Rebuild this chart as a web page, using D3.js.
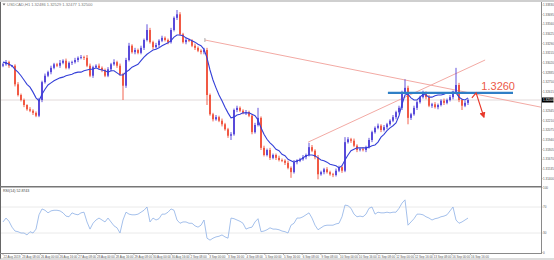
<!DOCTYPE html>
<html>
<head>
<meta charset="utf-8">
<script src="https://cdn.jsdelivr.net/npm/d3@7"></script>
<style>
html, body { margin: 0; padding: 0; background: #fff; }
svg { display: block; font-family: "Liberation Sans", Arial, sans-serif; }
</style>
</head>
<body>
<div id="chart"></div>
<script>
// USDCAD H1 candles (close prices), first open
var firstOpen = 1.3298;
var closes = [
  1.3300,1.3303,1.3298,1.3298,1.3272,1.3257,1.3250,1.3243,1.3237,1.3235,1.3232,1.3228,1.3250,
  1.3275,1.3284,1.3289,1.3295,1.3300,1.3298,1.3302,1.3305,1.3295,1.3302,1.3303,1.3306,1.3309,
  1.3310,1.3309,1.3298,1.3284,1.3296,1.3298,1.3295,1.3292,1.3284,1.3293,1.3300,1.3303,1.3298,
  1.3286,1.3270,1.3306,1.3326,1.3317,1.3320,1.3316,1.3323,1.3334,1.3348,1.3331,1.3324,1.3327,
  1.3333,1.3337,1.3334,1.3331,1.3348,1.3365,1.3370,1.3342,1.3331,1.3334,1.3333,1.3326,1.3323,
  1.3319,1.3317,1.3320,1.3257,1.3230,1.3223,1.3226,1.3221,1.3216,1.3209,1.3200,1.3202,1.3236,
  1.3239,1.3235,1.3232,1.3233,1.3228,1.3205,1.3215,1.3225,1.3183,1.3173,1.3180,1.3169,1.3173,
  1.3169,1.3166,1.3165,1.3162,1.3155,1.3149,1.3163,1.3165,1.3167,1.3170,1.3173,1.3184,1.3179,
  1.3170,1.3146,1.3149,1.3153,1.3149,1.3146,1.3145,1.3151,1.3156,1.3151,1.3191,1.3195,1.3193,
  1.3186,1.3180,1.3181,1.3180,1.3184,1.3194,1.3205,1.3211,1.3214,1.3208,1.3212,1.3216,1.3221,
  1.3226,1.3233,1.3239,1.3261,1.3267,1.3225,1.3230,1.3239,1.3247,1.3254,1.3260,1.3254,1.3242,
  1.3244,1.3240,1.3243,1.3249,1.3246,1.3250,1.3254,1.3261,1.3271,1.3250,1.3242,1.3246,1.3250
];
// upper / lower wick lengths in pips
var wickUp = [
  2,3,2,1,2,3,2,2,1,3,2,2,3,
  2,3,2,3,2,2,4,2,3,2,2,3,2,
  3,2,4,3,2,2,3,2,2,3,2,4,2,
  3,2,3,4,2,3,2,3,2,8,3,2,3,
  2,3,2,2,3,2,6,3,2,3,2,2,3,
  2,2,3,3,2,2,3,2,3,2,2,3,2,
  3,2,2,3,2,2,3,14,2,3,2,3,2,
  2,3,2,2,3,2,3,2,2,3,2,6,3,
  2,3,2,2,3,2,2,3,2,2,7,3,2,
  3,2,2,3,2,3,2,2,3,2,3,2,2,
  3,2,3,2,12,3,2,3,2,2,3,2,3,
  2,3,2,2,3,2,3,2,24,3,2,3,2
];
var wickDn = [
  2,2,3,2,3,2,2,3,2,2,3,2,2,
  3,2,2,3,2,2,3,2,2,2,3,2,3,
  2,3,2,2,3,2,2,3,2,2,3,2,3,
  2,20,3,2,2,3,2,2,3,2,2,3,2,
  3,2,2,3,2,2,3,2,2,3,2,2,3,
  2,3,3,14,2,3,2,2,3,2,3,6,2,
  3,2,2,3,2,3,2,2,3,2,2,3,2,
  3,2,2,3,2,8,2,3,2,2,3,2,2,
  3,7,2,3,2,2,3,2,2,3,2,2,3,
  2,3,2,2,3,2,3,2,2,3,2,3,2,
  2,3,2,3,2,9,3,2,3,2,2,3,2,
  3,2,3,2,3,2,2,3,2,3,6,2,3
];
// moving average
var maValues = [
  1.3303,1.3302,1.3300,1.3298,1.3293,1.3289,1.3284,1.3278,1.3272,1.3268,1.3261,1.3253,1.3249,
  1.3258,1.3265,1.3271,1.3274,1.3277,1.3279,1.3281,1.3282,1.3284,1.3285,1.3286,1.3288,1.3289,
  1.3289,1.3291,1.3292,1.3293,1.3293,1.3295,1.3293,1.3292,1.3291,1.3289,1.3291,1.3291,1.3288,
  1.3285,1.3285,1.3289,1.3292,1.3296,1.3298,1.3300,1.3305,1.3310,1.3314,1.3317,1.3320,1.3321,
  1.3323,1.3326,1.3328,1.3330,1.3333,1.3338,1.3341,1.3341,1.3340,1.3337,1.3335,1.3333,1.3331,
  1.3328,1.3326,1.3321,1.3309,1.3292,1.3278,1.3267,1.3257,1.3249,1.3240,1.3232,1.3225,1.3226,
  1.3229,1.3230,1.3232,1.3232,1.3232,1.3230,1.3228,1.3222,1.3211,1.3202,1.3195,1.3190,1.3186,
  1.3181,1.3179,1.3174,1.3172,1.3167,1.3165,1.3163,1.3165,1.3166,1.3169,1.3172,1.3173,1.3173,
  1.3172,1.3169,1.3166,1.3165,1.3163,1.3160,1.3159,1.3158,1.3155,1.3158,1.3166,1.3173,1.3179,
  1.3181,1.3183,1.3183,1.3183,1.3183,1.3184,1.3186,1.3187,1.3191,1.3198,1.3202,1.3207,1.3211,
  1.3214,1.3218,1.3228,1.3244,1.3257,1.3258,1.3253,1.3250,1.3250,1.3254,1.3258,1.3257,1.3254,
  1.3254,1.3256,1.3257,1.3257,1.3258,1.3260,1.3260,1.3261,1.3260,1.3254,1.3251,1.3250,1.3253
];
// RSI(14)
var rsiValues = [
  47,53,48,39,33,32,30,30,27,32,30,36,58,
  67,65,61,64,65,65,64,61,56,55,61,59,58,
  61,62,47,36,45,50,53,50,47,53,47,41,38,
  30,50,62,59,58,58,59,62,65,70,47,53,50,
  52,59,59,62,67,65,50,45,47,47,45,45,41,
  39,42,50,22,19,22,24,25,27,24,22,53,52,
  50,48,45,36,38,39,47,52,32,33,35,38,36,
  36,35,33,32,30,42,45,53,53,55,58,61,53,
  42,35,38,41,42,42,42,44,45,55,73,72,68,
  59,55,56,55,59,68,70,59,62,61,61,62,61,
  62,62,68,76,81,42,47,52,59,59,58,55,53,
  50,52,53,55,56,58,64,70,50,45,47,50,53
];
var priceTicks = ["1.33830","1.33695","1.33560","1.33425","1.33290","1.33155","1.33020",
  "1.32885","1.32750","1.32615","1.32345","1.32210","1.32075","1.31940",
  "1.31805","1.31670","1.31535","1.31400"];
var rsiTicks = [100, 70, 30, 0];
var rsiLevels = [70, 30];
var dateLabels = ["22 Aug 2019","23 Aug 08:00","26 Aug 00:00","26 Aug 16:00","27 Aug 08:00",
  "28 Aug 00:00","28 Aug 16:00","29 Aug 08:00","30 Aug 00:00","30 Aug 16:00","2 Sep 08:00",
  "3 Sep 00:00","3 Sep 16:00","4 Sep 08:00","5 Sep 00:00","5 Sep 16:00","6 Sep 08:00",
  "9 Sep 08:00","10 Sep 00:00","10 Sep 16:00","11 Sep 08:00","12 Sep 00:00","12 Sep 16:00",
  "13 Sep 08:00","16 Sep 00:00","16 Sep 16:00"];
var lastPrice = 1.3250;
var levelPrice = 1.3260;
// trend lines as [candle index, price]
var downTrend = [[67.3, 1.3334], [179.3, 1.3240]];
var upTrend = [[101.7, 1.3191], [160.7, 1.3306]];
var levelSpan = [128.3, 170];
var arrowPts = [[156.3, 1.3253], [157.7, 1.3260], [160.3, 1.3226]];

var svgWidth = 554;
var svgHeight = 260;
var axisX = 541;

var svg = d3.select("#chart")
  .append("svg")
  .attr("width", svgWidth)
  .attr("height", svgHeight);

// frame
svg.append("rect").attr("x", 0).attr("y", 0).attr("width", svgWidth).attr("height", 2).attr("fill", "#cfcfcf");
svg.append("line").attr("x1", 0.5).attr("x2", 0.5).attr("y1", 2).attr("y2", 259)
  .attr("stroke", "#666").attr("stroke-width", 1);

var x = d3.scaleLinear().domain([0, closes.length - 1]).range([3, 468]);
var y = d3.scaleLinear().domain([1.31296, 1.33900]).range([186, 0]);
var yR = d3.scaleLinear().domain([0, 100]).range([252.5, 187.5]);

svg.append("clipPath").attr("id", "mainClip")
  .append("rect").attr("x", 1).attr("y", 2).attr("width", axisX - 1).attr("height", 184);

var main = svg.append("g").attr("clip-path", "url(#mainClip)");

// bid line
main.append("line")
  .attr("x1", 1).attr("x2", axisX)
  .attr("y1", y(lastPrice)).attr("y2", y(lastPrice))
  .attr("stroke", "#e2dada").attr("stroke-width", 1);

// trend lines
function trend(pts, color) {
  main.append("line")
    .attr("x1", x(pts[0][0])).attr("y1", y(pts[0][1]))
    .attr("x2", x(pts[1][0])).attr("y2", y(pts[1][1]))
    .attr("stroke", color).attr("stroke-width", 1);
}
trend(downTrend, "#f3aaa4");
trend(upTrend, "#f3aaa4");
main.append("line")
  .attr("x1", x(downTrend[0][0])).attr("x2", x(downTrend[0][0]))
  .attr("y1", y(downTrend[0][1]) - 2).attr("y2", y(downTrend[0][1]) + 2)
  .attr("stroke", "#999").attr("stroke-width", 0.8);

// candles
var candles = closes.map(function(c, i) {
  var o = i ? closes[i - 1] : firstOpen;
  return {
    i: i, o: o, c: c,
    h: Math.max(o, c) + wickUp[i] * 0.0001,
    l: Math.min(o, c) - wickDn[i] * 0.0001
  };
});
var bull = "#5040d8", bear = "#f0503a";
var cg = main.append("g");
cg.selectAll(".wick").data(candles).enter().append("line")
  .attr("x1", d => x(d.i)).attr("x2", d => x(d.i))
  .attr("y1", d => y(d.h)).attr("y2", d => y(d.l))
  .attr("stroke", d => d.c >= d.o ? bull : bear).attr("stroke-width", 0.9);
cg.selectAll(".body").data(candles).enter().append("rect")
  .attr("x", d => x(d.i) - 0.9)
  .attr("width", 1.8)
  .attr("y", d => y(Math.max(d.o, d.c)))
  .attr("height", d => Math.max(0.8, y(Math.min(d.o, d.c)) - y(Math.max(d.o, d.c))))
  .attr("fill", d => d.c >= d.o ? bull : bear);

// moving average
main.append("path")
  .datum(maValues)
  .attr("fill", "none")
  .attr("stroke", "#3540d8")
  .attr("stroke-width", 1.1)
  .attr("d", d3.line().x((d, i) => x(i)).y(d => y(d)));

// 1.3260 level
main.append("line")
  .attr("x1", x(levelSpan[0])).attr("x2", x(levelSpan[1]))
  .attr("y1", y(levelPrice)).attr("y2", y(levelPrice))
  .attr("stroke", "#2e7fc6").attr("stroke-width", 2.4);
main.append("text")
  .attr("x", x(levelSpan[1]) + 2)
  .attr("y", y(levelPrice) - 3)
  .attr("text-anchor", "end")
  .attr("font-size", 11)
  .attr("fill", "#ec5a48")
  .text("1.3260");

// forecast arrow
svg.append("defs").append("marker")
  .attr("id", "arr").attr("viewBox", "0 0 10 10").attr("refX", 8).attr("refY", 5)
  .attr("markerWidth", 5).attr("markerHeight", 5).attr("orient", "auto")
  .append("path").attr("d", "M0,0L10,5L0,10z").attr("fill", "#e8382a");
main.append("path")
  .attr("d", d3.line().x(d => x(d[0])).y(d => y(d[1]))(arrowPts))
  .attr("fill", "none").attr("stroke", "#e8382a").attr("stroke-width", 1.2)
  .attr("marker-end", "url(#arr)");

// title
svg.append("path").attr("d", "M2.5,3.5L5.5,3.5L4,5.5z").attr("fill", "#666");
svg.append("text").attr("x", 7).attr("y", 6.3).attr("font-size", 4).attr("fill", "#777")
  .text("USDCAD,H1  1.32486 1.32529 1.32477 1.32500");

// price axis
svg.append("line").attr("x1", axisX + 0.5).attr("x2", axisX + 0.5).attr("y1", 2).attr("y2", 254)
  .attr("stroke", "#8a8a8a").attr("stroke-width", 1);
var pAxis = svg.append("g").selectAll("g").data(priceTicks).enter().append("g")
  .attr("transform", d => `translate(${axisX},${y(+d)})`);
pAxis.append("line").attr("x1", 0).attr("x2", 1.5).attr("stroke", "#888").attr("stroke-width", 0.6);
pAxis.append("text").attr("x", 2).attr("dy", 1.1).attr("font-size", 3).attr("fill", "#555").text(d => d);

svg.append("rect").attr("x", axisX + 1).attr("y", y(lastPrice) - 2.5).attr("width", 11.5).attr("height", 5).attr("fill", "#000");
svg.append("text").attr("x", axisX + 2).attr("y", y(lastPrice) + 1.1).attr("font-size", 3)
  .attr("fill", "#fff").text(lastPrice.toFixed(5));

// panel separator
svg.append("line").attr("x1", 0).attr("x2", axisX + 1).attr("y1", 186.8).attr("y2", 186.8)
  .attr("stroke", "#777").attr("stroke-width", 1.4);

// RSI panel
svg.selectAll(".lvl").data(rsiLevels).enter().append("line")
  .attr("x1", 1).attr("x2", axisX).attr("y1", d => yR(d)).attr("y2", d => yR(d))
  .attr("stroke", "#e4e4e4").attr("stroke-width", 0.8);
svg.append("path")
  .datum(rsiValues)
  .attr("fill", "none")
  .attr("stroke", "#8db0e6")
  .attr("stroke-width", 0.8)
  .attr("d", d3.line().x((d, i) => x(i)).y(d => yR(d)));
svg.append("text").attr("x", 3).attr("y", 192.3).attr("font-size", 3.6).attr("fill", "#444")
  .text("RSI(14) 52.8743");
var rAxis = svg.append("g").selectAll("g").data(rsiTicks).enter().append("g")
  .attr("transform", d => `translate(${axisX},${yR(d)})`);
rAxis.append("line").attr("x1", 0).attr("x2", 1.5).attr("stroke", "#888").attr("stroke-width", 0.6);
rAxis.append("text").attr("x", 2).attr("dy", 1.1).attr("font-size", 3).attr("fill", "#555").text(d => d);

// time axis
svg.append("line").attr("x1", 0).attr("x2", axisX + 1).attr("y1", 253.5).attr("y2", 253.5)
  .attr("stroke", "#8a8a8a").attr("stroke-width", 1);
var xt = d3.scalePoint().domain(dateLabels).range([3, 470.5]);
var tAxis = svg.append("g").selectAll("g").data(dateLabels).enter().append("g")
  .attr("transform", d => `translate(${xt(d)},253.5)`);
tAxis.append("line").attr("y1", 0).attr("y2", 1.5).attr("stroke", "#888").attr("stroke-width", 0.6);
tAxis.append("text").attr("x", 0.5).attr("y", 4).attr("font-size", 3).attr("fill", "#555").text(d => d);
svg.append("line").attr("x1", 0).attr("x2", svgWidth).attr("y1", 259).attr("y2", 259)
  .attr("stroke", "#bbb").attr("stroke-width", 1);
</script>
</body>
</html>
